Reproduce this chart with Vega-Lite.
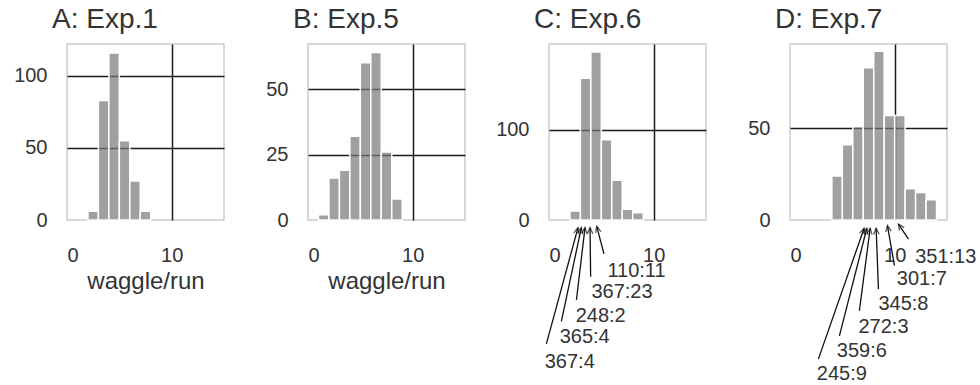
{
  "$schema": "https://vega.github.io/schema/vega-lite/v6.json",
  "padding": {"left": 6, "top": 5, "right": 0, "bottom": 0},
  "background": "white",
  "config": {
    "view": {"stroke": "#cccccc", "strokeWidth": 1.5},
    "font": "Liberation Sans",
    "axis": {"domain": false, "ticks": false, "labelFont": "Liberation Sans", "labelFontSize": 20, "labelColor": "#333333", "gridWidth": 1.5, "gridOpacity": 1, "titleFont": "Liberation Sans", "titleFontSize": 24, "titleFontWeight": "normal", "titleColor": "#333333"},
    "axisY": {"minExtent": 60, "maxExtent": 60, "labelPadding": 20},
    "axisX": {"labelPadding": 25, "titlePadding": 4},
    "title": {"font": "Liberation Sans", "fontSize": 28, "fontWeight": "normal", "color": "#333333", "anchor": "start", "frame": "group", "dx": -15, "offset": 10},
    "concat": {"spacing": 22}
  },
  "datasets": {
    "histA": [
      {"bin_start": 2, "bin_end": 3, "count": 6},
      {"bin_start": 3, "bin_end": 4, "count": 83},
      {"bin_start": 4, "bin_end": 5, "count": 116},
      {"bin_start": 5, "bin_end": 6, "count": 55},
      {"bin_start": 6, "bin_end": 7, "count": 27},
      {"bin_start": 7, "bin_end": 8, "count": 6}
    ],
    "histB": [
      {"bin_start": 1, "bin_end": 2, "count": 2},
      {"bin_start": 2, "bin_end": 3, "count": 16},
      {"bin_start": 3, "bin_end": 4, "count": 19},
      {"bin_start": 4, "bin_end": 5, "count": 32},
      {"bin_start": 5, "bin_end": 6, "count": 60},
      {"bin_start": 6, "bin_end": 7, "count": 64},
      {"bin_start": 7, "bin_end": 8, "count": 26},
      {"bin_start": 8, "bin_end": 9, "count": 8}
    ],
    "histC": [
      {"bin_start": 2, "bin_end": 3, "count": 10},
      {"bin_start": 3, "bin_end": 4, "count": 157},
      {"bin_start": 4, "bin_end": 5, "count": 186},
      {"bin_start": 5, "bin_end": 6, "count": 89},
      {"bin_start": 6, "bin_end": 7, "count": 44},
      {"bin_start": 7, "bin_end": 8, "count": 12},
      {"bin_start": 8, "bin_end": 9, "count": 8}
    ],
    "histD": [
      {"bin_start": 4, "bin_end": 5, "count": 24},
      {"bin_start": 5, "bin_end": 6, "count": 41},
      {"bin_start": 6, "bin_end": 7, "count": 51},
      {"bin_start": 7, "bin_end": 8, "count": 83},
      {"bin_start": 8, "bin_end": 9, "count": 92},
      {"bin_start": 9, "bin_end": 10, "count": 57},
      {"bin_start": 10, "bin_end": 11, "count": 57},
      {"bin_start": 11, "bin_end": 12, "count": 17},
      {"bin_start": 12, "bin_end": 13, "count": 15},
      {"bin_start": 13, "bin_end": 14, "count": 11}
    ],
    "annC": [
      {"label": "110:11", "tip_x": 4.56, "tip_y": -7, "tail_x": 5.25, "tail_y": -37.5, "text_x": 5.58, "text_y": -56.1},
      {"label": "367:23", "tip_x": 3.92, "tip_y": -8.5, "tail_x": 3.98, "tail_y": -62.8, "text_x": 4.05, "text_y": -79.4},
      {"label": "248:2", "tip_x": 3.44, "tip_y": -8.5, "tail_x": 2.62, "tail_y": -88.6, "text_x": 2.55, "text_y": -106},
      {"label": "365:4", "tip_x": 3.09, "tip_y": -8.5, "tail_x": 1.18, "tail_y": -112.3, "text_x": 1.02, "text_y": -130},
      {"label": "367:4", "tip_x": 2.77, "tip_y": -8.5, "tail_x": -0.25, "tail_y": -137.3, "text_x": -0.41, "text_y": -156.9}
    ],
    "annD": [
      {"label": "351:13", "tip_x": 10.36, "tip_y": -2.2, "tail_x": 11.32, "tail_y": -10.4, "text_x": 11.96, "text_y": -20.4},
      {"label": "301:7", "tip_x": 9.31, "tip_y": -3.1, "tail_x": 9.98, "tail_y": -24.9, "text_x": 10.21, "text_y": -32.2},
      {"label": "345:8", "tip_x": 8.23, "tip_y": -4.5, "tail_x": 8.45, "tail_y": -37.7, "text_x": 8.45, "text_y": -45.9},
      {"label": "272:3", "tip_x": 7.66, "tip_y": -4.5, "tail_x": 6.63, "tail_y": -49.5, "text_x": 6.54, "text_y": -58.6},
      {"label": "359:6", "tip_x": 7.34, "tip_y": -4.5, "tail_x": 4.72, "tail_y": -63.2, "text_x": 4.47, "text_y": -71.3},
      {"label": "245:9", "tip_x": 7.08, "tip_y": -4.5, "tail_x": 2.71, "tail_y": -75.9, "text_x": 2.56, "text_y": -84.1}
    ]
  },
  "hconcat": [
    {
      "width": 157, "height": 176,
      "title": {"text": "A: Exp.1"},
      "data": {"name": "histA"},
      "mark": {"type": "bar", "fill": "#777777", "fillOpacity": 0.7, "stroke": "white", "strokeWidth": 1.5, "strokeOpacity": 1, "clip": false},
      "encoding": {
        "x": {"field": "bin_start", "type": "quantitative", "scale": {"domain": [0, 15], "nice": false},
              "axis": {"values": [0, 10], "title": "waggle/run", "gridColor": {"condition": {"test": "datum.value === 0", "value": "transparent"}, "value": "#1a1a1a"}}},
        "x2": {"field": "bin_end"},
        "y": {"field": "count", "type": "quantitative", "scale": {"domain": [0, 122.2], "nice": false},
              "axis": {"values": [0, 50, 100], "title": null, "gridColor": {"condition": {"test": "datum.value === 0", "value": "transparent"}, "value": "#1a1a1a"}}},
        "y2": {"datum": 0}
      }
    },
    {
      "width": 157, "height": 176,
      "title": {"text": "B: Exp.5"},
      "data": {"name": "histB"},
      "mark": {"type": "bar", "fill": "#777777", "fillOpacity": 0.7, "stroke": "white", "strokeWidth": 1.5, "strokeOpacity": 1, "clip": false},
      "encoding": {
        "x": {"field": "bin_start", "type": "quantitative", "scale": {"domain": [0, 15], "nice": false},
              "axis": {"values": [0, 10], "title": "waggle/run", "gridColor": {"condition": {"test": "datum.value === 0", "value": "transparent"}, "value": "#1a1a1a"}}},
        "x2": {"field": "bin_end"},
        "y": {"field": "count", "type": "quantitative", "scale": {"domain": [0, 67.2], "nice": false},
              "axis": {"values": [0, 25, 50], "title": null, "gridColor": {"condition": {"test": "datum.value === 0", "value": "transparent"}, "value": "#1a1a1a"}}},
        "y2": {"datum": 0}
      }
    },
    {
      "width": 157, "height": 176,
      "title": {"text": "C: Exp.6"},
      "layer": [
        {
          "data": {"name": "histC"},
          "mark": {"type": "bar", "fill": "#777777", "fillOpacity": 0.7, "stroke": "white", "strokeWidth": 1.5, "strokeOpacity": 1, "clip": false},
          "encoding": {
            "x": {"field": "bin_start", "type": "quantitative", "scale": {"domain": [0, 15], "nice": false},
                  "axis": {"values": [0, 10], "title": null, "gridColor": {"condition": {"test": "datum.value === 0", "value": "transparent"}, "value": "#1a1a1a"}}},
            "x2": {"field": "bin_end"},
            "y": {"field": "count", "type": "quantitative", "scale": {"domain": [0, 195], "nice": false},
                  "axis": {"values": [0, 100], "title": null, "gridColor": {"condition": {"test": "datum.value === 0", "value": "transparent"}, "value": "#1a1a1a"}}},
            "y2": {"datum": 0}
          }
        },
        {
          "data": {"name": "annC"},
          "mark": {"type": "rule", "color": "#111111", "strokeWidth": 1.3, "clip": false},
          "encoding": {
            "x": {"field": "tail_x", "type": "quantitative"},
            "y": {"field": "tail_y", "type": "quantitative"},
            "x2": {"field": "tip_x"},
            "y2": {"field": "tip_y"}
          }
        },
        {
          "data": {"name": "annC"},
          "transform": [{"calculate": "atan2((datum.tip_x - datum.tail_x) * 10.47, (datum.tip_y - datum.tail_y) * 0.903) * 180 / PI", "as": "ang"}],
          "mark": {"type": "point", "shape": "M-0.45,1L0,0L0.45,1", "filled": false, "stroke": "#111111", "strokeWidth": 1.3, "size": 150, "clip": false},
          "encoding": {
            "x": {"field": "tip_x", "type": "quantitative"},
            "y": {"field": "tip_y", "type": "quantitative"},
            "angle": {"field": "ang", "type": "quantitative", "scale": null}
          }
        },
        {
          "data": {"name": "annC"},
          "mark": {"type": "text", "align": "left", "baseline": "middle", "fontSize": 20, "font": "Liberation Sans", "color": "#333333", "clip": false},
          "encoding": {
            "x": {"field": "text_x", "type": "quantitative"},
            "y": {"field": "text_y", "type": "quantitative"},
            "text": {"field": "label"}
          }
        }
      ]
    },
    {
      "width": 157, "height": 176,
      "title": {"text": "D: Exp.7"},
      "layer": [
        {
          "data": {"name": "histD"},
          "mark": {"type": "bar", "fill": "#777777", "fillOpacity": 0.7, "stroke": "white", "strokeWidth": 1.5, "strokeOpacity": 1, "clip": false},
          "encoding": {
            "x": {"field": "bin_start", "type": "quantitative", "scale": {"domain": [0, 15], "nice": false},
                  "axis": {"values": [0, 10], "title": null, "gridColor": {"condition": {"test": "datum.value === 0", "value": "transparent"}, "value": "#1a1a1a"}}},
            "x2": {"field": "bin_end"},
            "y": {"field": "count", "type": "quantitative", "scale": {"domain": [0, 96], "nice": false},
                  "axis": {"values": [0, 50], "title": null, "gridColor": {"condition": {"test": "datum.value === 0", "value": "transparent"}, "value": "#1a1a1a"}}},
            "y2": {"datum": 0}
          }
        },
        {
          "data": {"name": "annD"},
          "mark": {"type": "rule", "color": "#111111", "strokeWidth": 1.3, "clip": false},
          "encoding": {
            "x": {"field": "tail_x", "type": "quantitative"},
            "y": {"field": "tail_y", "type": "quantitative"},
            "x2": {"field": "tip_x"},
            "y2": {"field": "tip_y"}
          }
        },
        {
          "data": {"name": "annD"},
          "transform": [{"calculate": "atan2((datum.tip_x - datum.tail_x) * 10.45, (datum.tip_y - datum.tail_y) * 1.832) * 180 / PI", "as": "ang"}],
          "mark": {"type": "point", "shape": "M-0.45,1L0,0L0.45,1", "filled": false, "stroke": "#111111", "strokeWidth": 1.3, "size": 150, "clip": false},
          "encoding": {
            "x": {"field": "tip_x", "type": "quantitative"},
            "y": {"field": "tip_y", "type": "quantitative"},
            "angle": {"field": "ang", "type": "quantitative", "scale": null}
          }
        },
        {
          "data": {"name": "annD"},
          "mark": {"type": "text", "align": "left", "baseline": "middle", "fontSize": 20, "font": "Liberation Sans", "color": "#333333", "clip": false},
          "encoding": {
            "x": {"field": "text_x", "type": "quantitative"},
            "y": {"field": "text_y", "type": "quantitative"},
            "text": {"field": "label"}
          }
        }
      ]
    }
  ]
}
